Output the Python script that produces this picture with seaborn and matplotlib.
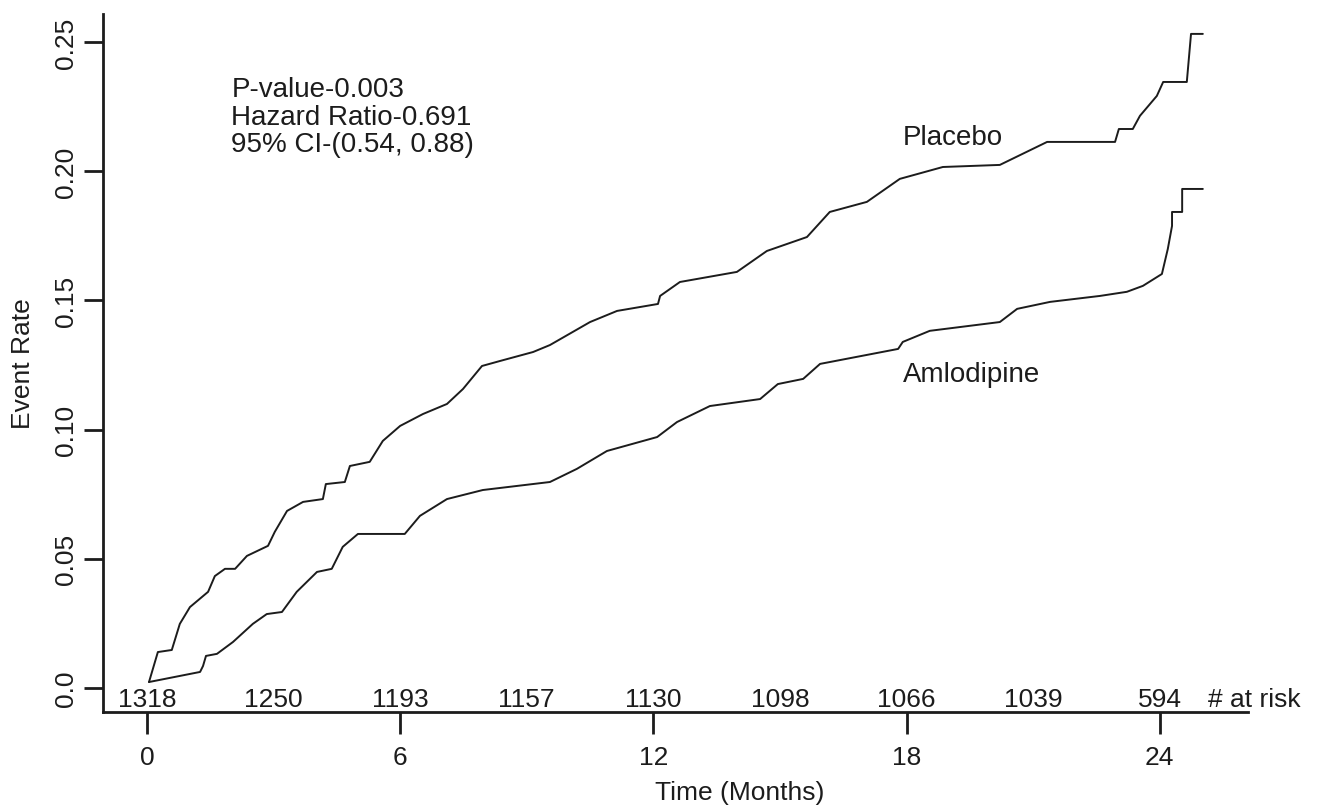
import matplotlib
matplotlib.use("Agg")
import matplotlib.pyplot as plt
import matplotlib.transforms as mtransforms
import numpy as np
import pandas as pd
import seaborn as sns

# ---------------- data ----------------
placebo_t = [0.05, 0.26, 0.59, 0.78, 1.02, 1.45, 1.61, 1.85, 2.09, 2.37, 2.87, 3.03,
             3.32, 3.70, 4.17, 4.24, 4.69, 4.81, 5.28, 5.59, 6.00, 6.54, 7.11, 7.49,
             7.94, 8.36, 9.15, 9.55, 10.50, 11.14, 12.11, 12.16, 12.63, 13.98, 14.69,
             15.64, 16.18, 17.06, 17.84, 18.86, 20.21, 21.33, 22.94, 23.03, 23.36,
             23.53, 23.93, 24.08, 24.64, 24.74, 25.02]
placebo_r = [0.0023, 0.0139, 0.0147, 0.0248, 0.0313, 0.0372, 0.0433, 0.0461, 0.0461,
             0.0511, 0.0550, 0.0604, 0.0685, 0.0720, 0.0731, 0.0789, 0.0797, 0.0859,
             0.0875, 0.0956, 0.1014, 0.1060, 0.1099, 0.1157, 0.1246, 0.1265, 0.1300,
             0.1327, 0.1416, 0.1459, 0.1486, 0.1517, 0.1571, 0.1610, 0.1691, 0.1745,
             0.1842, 0.1881, 0.1970, 0.2016, 0.2024, 0.2113, 0.2113, 0.2163, 0.2163,
             0.2214, 0.2291, 0.2345, 0.2345, 0.2531, 0.2531]

amlo_t = [0.05, 1.26, 1.33, 1.40, 1.66, 2.04, 2.51, 2.84, 3.20, 3.55, 4.03, 4.38,
          4.64, 5.00, 6.11, 6.47, 7.11, 7.96, 9.55, 10.19, 10.90, 12.09, 12.56, 13.34,
          14.53, 14.95, 15.55, 15.95, 17.80, 17.91, 18.55, 20.21, 20.62, 21.40, 22.58,
          23.22, 23.60, 24.05, 24.19, 24.29, 24.29, 24.53, 24.53, 25.02]
amlo_r = [0.0023, 0.0062, 0.0085, 0.0124, 0.0132, 0.0178, 0.0248, 0.0286, 0.0294,
          0.0372, 0.0449, 0.0461, 0.0546, 0.0596, 0.0596, 0.0666, 0.0731, 0.0766,
          0.0797, 0.0848, 0.0917, 0.0971, 0.1029, 0.1091, 0.1118, 0.1176, 0.1196,
          0.1254, 0.1312, 0.1339, 0.1382, 0.1416, 0.1467, 0.1494, 0.1517, 0.1533,
          0.1556, 0.1602, 0.1699, 0.1788, 0.1842, 0.1842, 0.1931, 0.1931]

risk_months = [0, 3, 6, 9, 12, 15, 18, 21, 24]
risk_counts = [1318, 1250, 1193, 1157, 1130, 1098, 1066, 1039, 594]

x_ticks = [0, 6, 12, 18, 24]
y_ticks = [0.0, 0.05, 0.10, 0.15, 0.20, 0.25]
y_tick_labels = ["0.0", "0.05", "0.10", "0.15", "0.20", "0.25"]

stats_lines = ["P-value-0.003", "Hazard Ratio-0.691", "95% CI-(0.54, 0.88)"]
group_names = ["Placebo", "Amlodipine"]

# ---------------- styling ----------------
sns.set_theme(style="ticks")
plt.rcParams["font.family"] = ["Liberation Sans", "DejaVu Sans"]
INK = "#1c1c1c"
plt.rcParams["text.color"] = INK
plt.rcParams["axes.labelcolor"] = INK
plt.rcParams["xtick.color"] = INK
plt.rcParams["ytick.color"] = INK

df = pd.concat([
    pd.DataFrame({"t": placebo_t, "r": placebo_r, "g": group_names[0]}),
    pd.DataFrame({"t": amlo_t, "r": amlo_r, "g": group_names[1]}),
], ignore_index=True)

fig = plt.figure(figsize=(13.21, 8.12), dpi=100)
ax = fig.add_axes([103 / 1321, 1 - 713 / 812, (1248 - 103) / 1321, (713 - 15) / 812])

sns.lineplot(data=df, x="t", y="r", hue="g", estimator=None, sort=False,
             palette={group_names[0]: INK, group_names[1]: INK},
             linewidth=1.4, legend=False, ax=ax)

ax.set_xlim(-1.04, 26.09)
ax.set_ylim(-0.0093, 0.2608)
sns.despine(ax=ax)
for s in ("left", "bottom"):
    ax.spines[s].set_linewidth(2.0)
    ax.spines[s].set_color(INK)

FS = 19
ax.set_xticks(x_ticks)
ax.set_xticklabels([str(v) for v in x_ticks])
ax.set_yticks(y_ticks)
ax.set_yticklabels(y_tick_labels, rotation=90, va="center")
ax.tick_params(axis="x", length=16, width=2.0, pad=8.0, labelsize=FS)
ax.tick_params(axis="y", length=14, width=2.0, pad=4.0, labelsize=FS)

ax.set_xlabel("Time (Months)", fontsize=FS)
ax.xaxis.set_label_coords(0.556, -0.098)
ax.set_ylabel("Event Rate", fontsize=FS)
ax.yaxis.label.set_va("center")
ax.yaxis.set_label_coords(-0.070, 0.5)

# at-risk numbers
trans = mtransforms.blended_transform_factory(ax.transData, ax.transAxes)
for m, n in zip(risk_months, risk_counts):
    ax.text(m, 0.0086, str(n), transform=trans, ha="center", va="baseline", fontsize=FS)
ax.text(25.15, 0.0086, "# at risk", transform=trans, ha="left", va="baseline", fontsize=FS)

# statistics annotation
for yv, s in zip([0.2290, 0.2183, 0.2077], stats_lines):
    ax.text(2.0, yv, s, ha="left", va="baseline", fontsize=20)

ax.text(17.91, 0.2105, group_names[0], ha="left", va="baseline", fontsize=20)
ax.text(17.91, 0.1188, group_names[1], ha="left", va="baseline", fontsize=20)

fig.savefig("out.png", dpi=100)
